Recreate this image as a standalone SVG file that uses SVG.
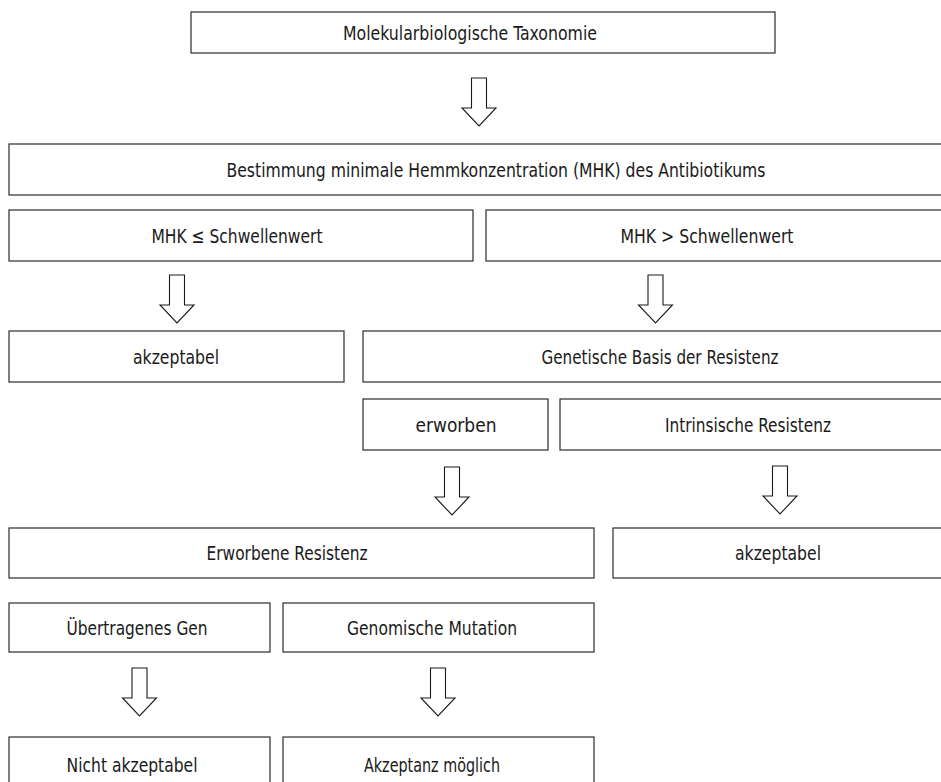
<svg xmlns="http://www.w3.org/2000/svg" xmlns:xlink="http://www.w3.org/1999/xlink" width="941" height="782" viewBox="0 0 941 782">
<style>
.box{fill:#fff;stroke:#2b2b2b;stroke-width:1.2}
.lbl{font-family:"Liberation Sans Narrow","DejaVu Sans Condensed","Liberation Sans",Arial,sans-serif;font-size:20px;fill:#1a1a1a;text-anchor:middle}
.arr{fill:#fff;stroke:#1a1a1a;stroke-width:1.1;stroke-linejoin:miter}
</style>
<defs>
<path id="blk" d="M -7.5 0 V 30 H -17 L 0 48 L 17 30 H 7.5 V 0 Z"/>
</defs>
<rect width="941" height="782" fill="#fff"/>
<g id="connectors">
<use xlink:href="#blk" class="arr" transform="translate(479,78)"/>
<use xlink:href="#blk" class="arr" transform="translate(177,275)"/>
<use xlink:href="#blk" class="arr" transform="translate(655.5,275)"/>
<use xlink:href="#blk" class="arr" transform="translate(452,467)"/>
<use xlink:href="#blk" class="arr" transform="translate(780,466)"/>
<use xlink:href="#blk" class="arr" transform="translate(139.5,668)"/>
<use xlink:href="#blk" class="arr" transform="translate(438,668)"/>
</g>
<g id="n1"><rect class="box" x="191" y="12" width="584" height="41"/><text class="lbl" x="470" y="40" textLength="254" lengthAdjust="spacingAndGlyphs">Molekularbiologische Taxonomie</text></g>
<g id="n2"><rect class="box" x="9" y="144" width="960" height="51"/><text class="lbl" x="496" y="176.5" textLength="539" lengthAdjust="spacingAndGlyphs">Bestimmung minimale Hemmkonzentration (MHK) des Antibiotikums</text></g>
<g id="n3"><rect class="box" x="9" y="210" width="464" height="51"/><text class="lbl" x="237" y="242.5" textLength="171" lengthAdjust="spacingAndGlyphs">MHK ≤ Schwellenwert</text></g>
<g id="n4"><rect class="box" x="486" y="210" width="480" height="51"/><text class="lbl" x="707" y="242.5" textLength="173" lengthAdjust="spacingAndGlyphs">MHK &gt; Schwellenwert</text></g>
<g id="n5"><rect class="box" x="9" y="331" width="335" height="51"/><text class="lbl" x="176" y="363.5" textLength="86" lengthAdjust="spacingAndGlyphs">akzeptabel</text></g>
<g id="n6"><rect class="box" x="363" y="331" width="600" height="51"/><text class="lbl" x="660" y="363.5" textLength="237" lengthAdjust="spacingAndGlyphs">Genetische Basis der Resistenz</text></g>
<g id="n7"><rect class="box" x="363" y="399" width="185" height="51"/><text class="lbl" x="456" y="431.5" textLength="81" lengthAdjust="spacingAndGlyphs">erworben</text></g>
<g id="n8"><rect class="box" x="560" y="399" width="400" height="51"/><text class="lbl" x="748" y="431.5" textLength="166" lengthAdjust="spacingAndGlyphs">Intrinsische Resistenz</text></g>
<g id="n9"><rect class="box" x="9" y="528" width="585" height="50"/><text class="lbl" x="287" y="560" textLength="161" lengthAdjust="spacingAndGlyphs">Erworbene Resistenz</text></g>
<g id="n10"><rect class="box" x="613" y="528" width="350" height="50"/><text class="lbl" x="778" y="560" textLength="86" lengthAdjust="spacingAndGlyphs">akzeptabel</text></g>
<g id="n11"><rect class="box" x="9" y="603" width="261" height="49"/><text class="lbl" x="137" y="634.5" textLength="141" lengthAdjust="spacingAndGlyphs">Übertragenes Gen</text></g>
<g id="n12"><rect class="box" x="283" y="603" width="311" height="49"/><text class="lbl" x="432" y="634.5" textLength="170" lengthAdjust="spacingAndGlyphs">Genomische Mutation</text></g>
<g id="n13"><rect class="box" x="9" y="737" width="261" height="60"/><text class="lbl" x="132" y="772" textLength="131" lengthAdjust="spacingAndGlyphs">Nicht akzeptabel</text></g>
<g id="n14"><rect class="box" x="283" y="737" width="311" height="60"/><text class="lbl" x="432" y="772" textLength="136" lengthAdjust="spacingAndGlyphs">Akzeptanz möglich</text></g>
</svg>
